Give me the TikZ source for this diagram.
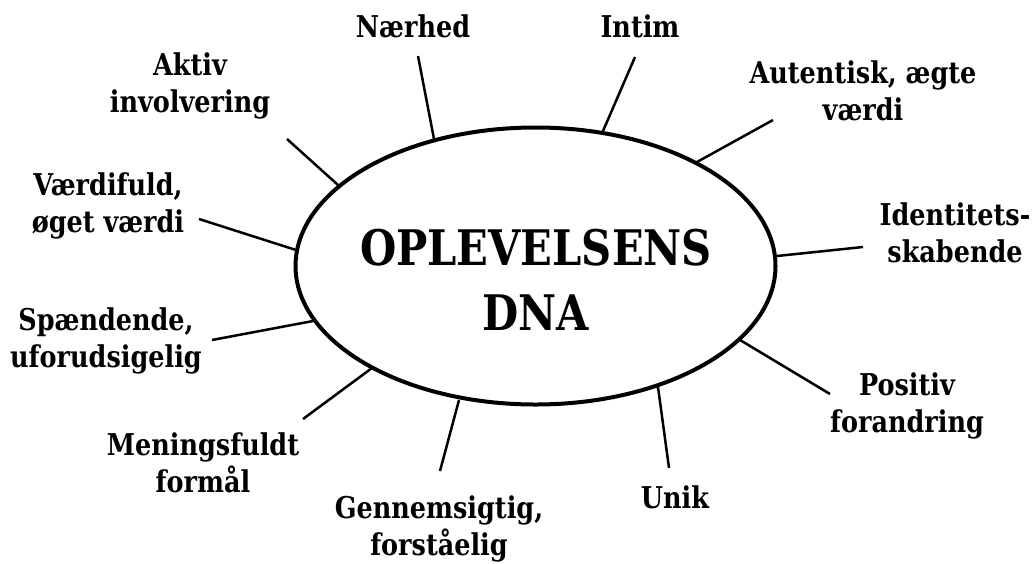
\documentclass[tikz,border=0pt]{standalone}
\usepackage{fontspec}
\usepackage{graphicx}
\setmainfont{Liberation Serif}
\newfontfamily\lblfont[FakeStretch=0.85]{DejaVu Serif}
\usetikzlibrary{shapes.geometric}
\newcommand{\twolines}[1]{\begin{tabular}[t]{@{}c@{}}#1\end{tabular}}
\begin{document}
\begin{tikzpicture}[x=1pt,y=-1pt,
  lbl/.style={anchor=base, inner sep=0pt, font=\lblfont\bfseries\fontsize{30}{37}\selectfont},
  spoke/.style={line width=2.5pt, line cap=butt},
  dna/.style={ellipse, draw, line width=4pt, inner sep=0pt, minimum width=480pt, minimum height=277pt}
]
\useasboundingbox (0,0) rectangle (1033,563);

% central ellipse
\node[dna] (E) at (535.5,266) {};
\node[anchor=base, inner sep=0pt, font=\lblfont\bfseries\fontsize{49}{65}\selectfont] (T) at (536,265)
  {\twolines{OPLEVELSENS\\DNA}};

% labels
\node[lbl] (aktiv) at (190,75) {\twolines{Aktiv\\involvering}};
\node[lbl] (naer) at (413,37) {Nærhed};
\node[lbl] (intim) at (640,37) {Intim};
\node[lbl] (auth) at (863,83) {\twolines{Autentisk, ægte\\værdi}};
\node[lbl] (ident) at (955,225) {\twolines{Identitets-\\skabende}};
\node[lbl] (posi) at (907,395) {\twolines{Positiv\\forandring}};
\node[lbl] (unik) at (675,508) {Unik};
\node[lbl] (genn) at (439,518) {\twolines{Gennemsigtig,\\forståelig}};
\node[lbl] (mening) at (203,455) {\twolines{Meningsfuldt\\formål}};
\node[lbl] (spaend) at (106,330) {\twolines{Spændende,\\uforudsigelig}};
\node[lbl] (vaerdi) at (108,195) {\twolines{Værdifuld,\\øget værdi}};

% spoke end points
\coordinate (aktivO) at (287,139);   \coordinate (aktivI) at (338,185);
\coordinate (naerO) at (418,56);     \coordinate (naerI) at (434,139);
\coordinate (intimO) at (635,57);    \coordinate (intimI) at (603,131);
\coordinate (authO) at (773,120);    \coordinate (authI) at (697,162);
\coordinate (identO) at (863,247);   \coordinate (identI) at (777,256);
\coordinate (posiO) at (830,394);    \coordinate (posiI) at (740,340);
\coordinate (unikO) at (669,468);    \coordinate (unikI) at (658,387);
\coordinate (gennO) at (440,471);    \coordinate (gennI) at (459,400);
\coordinate (meningO) at (303,419);  \coordinate (meningI) at (372,368);
\coordinate (spaendO) at (212,340);  \coordinate (spaendI) at (313,321);
\coordinate (vaerdiO) at (199,219);  \coordinate (vaerdiI) at (296,250);

% spokes
\foreach \s in {aktiv,naer,intim,auth,ident,posi,unik,genn,mening,spaend,vaerdi}
  \draw[spoke] (\s O) -- (\s I);
\end{tikzpicture}
\end{document}
